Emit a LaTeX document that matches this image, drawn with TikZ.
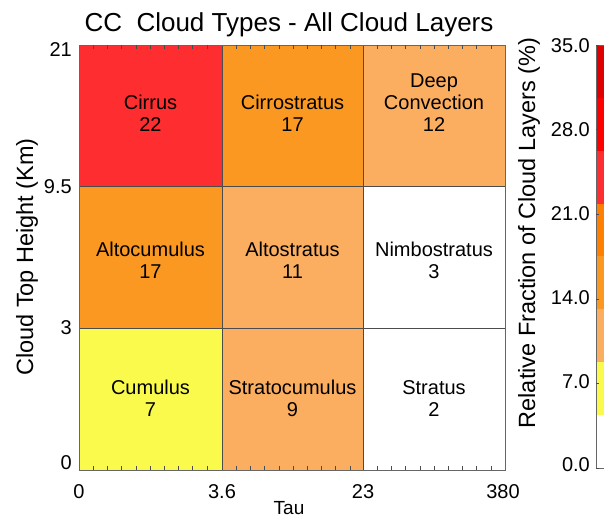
\documentclass[tikz,border=0pt]{standalone}
\usepackage{fontspec}
\setmainfont{Liberation Sans}
\usetikzlibrary{positioning}

\definecolor{darkred}{RGB}{222,0,0}
\definecolor{purered}{RGB}{255,0,0}
\definecolor{lightred}{RGB}{253,45,48}
\definecolor{darkorange}{RGB}{255,128,0}
\definecolor{midorange}{RGB}{250,152,34}
\definecolor{lightorange}{RGB}{252,174,96}
\definecolor{paleyellow}{RGB}{250,250,76}

\begin{document}
\begin{tikzpicture}[
    x=1pt, y=-1pt,
    cell/.style={draw=black!70, line width=0.7pt, inner sep=0pt, outer sep=0pt},
    celltext/.style={font=\fontsize{20}{22}\selectfont, align=center, inner sep=0pt},
    ticklabel/.style={font=\fontsize{20}{22}\selectfont, inner sep=0pt},
    axistitle/.style={font=\fontsize{23.5}{26}\selectfont, inner sep=0pt, rotate=90},
    minortick/.style={draw=black!70, line width=0.6pt},
    barlevel/.style={inner sep=0pt, outer sep=0pt, minimum width=24pt, minimum height=52.875pt},
]
\useasboundingbox (0,0) rectangle (604,518);

% === TITLE ===
\node[font=\fontsize{26}{29}\selectfont, inner sep=0pt] (title) at (289,25) {CC\ \ Cloud Types - All Cloud Layers};

% === CELLS (Tau columns x height rows) ===
\node[cell, fill=lightred, minimum width=143pt, minimum height=141pt] (cirrus) at (150.5,115.5) {};
\node[cell, fill=midorange, minimum width=141pt, minimum height=141pt] (cirrostratus) at (292.5,115.5) {};
\node[cell, fill=lightorange, minimum width=142pt, minimum height=141pt] (deepconv) at (434,115.5) {};

\node[cell, fill=midorange, minimum width=143pt, minimum height=142pt] (altocumulus) at (150.5,257) {};
\node[cell, fill=lightorange, minimum width=141pt, minimum height=142pt] (altostratus) at (292.5,257) {};
\node[cell, fill=white, minimum width=142pt, minimum height=142pt] (nimbostratus) at (434,257) {};

\node[cell, fill=paleyellow, minimum width=143pt, minimum height=142pt] (cumulus) at (150.5,399) {};
\node[cell, fill=lightorange, minimum width=141pt, minimum height=142pt] (stratocumulus) at (292.5,399) {};
\node[cell, fill=white, minimum width=142pt, minimum height=142pt] (stratus) at (434,399) {};

% Labels
\node[celltext, above=54pt of cirrus.south] {Cirrus\\22};
\node[celltext, above=54pt of cirrostratus.south] {Cirrostratus\\17};
\node[celltext, above=54pt of deepconv.south] {Deep\\Convection\\12};
\node[celltext, above=49pt of altocumulus.south] {Altocumulus\\17};
\node[celltext, above=49pt of altostratus.south] {Altostratus\\11};
\node[celltext, above=49pt of nimbostratus.south] {Nimbostratus\\3};
\node[celltext, above=53pt of cumulus.south] {Cumulus\\7};
\node[celltext, above=53pt of stratocumulus.south] {Stratocumulus\\9};
\node[celltext, above=53pt of stratus.south] {Stratus\\2};

% Outer box
\draw[black!60, line width=0.9pt] (cirrus.north west) rectangle (stratus.south east);

% Minor ticks along top and bottom
\foreach \c in {79,222,363}
  \foreach \k in {1,...,9} {
    \draw[minortick] (\c+\k*14.2,45) -- ++(0,4);
    \draw[minortick] (\c+\k*14.2,470) -- ++(0,-4);
  }

% === AXES ===
\node[ticklabel, anchor=east] (y21) at (72,50) {21};
\node[ticklabel, anchor=east] (y95) at (72,187) {9.5};
\node[ticklabel, anchor=east] (y3) at (72,328) {3};
\node[ticklabel, anchor=east] (y0) at (72,463) {0};

\node[ticklabel] (x0) at (79,492) {0};
\node[ticklabel] (x36) at (222,492) {3.6};
\node[ticklabel] (x23) at (363,492) {23};
\node[ticklabel] (x380) at (503,492) {380};

\node[font=\fontsize{19}{21}\selectfont, inner sep=0pt] (tau) at (289,508) {Tau};
\node[axistitle] (ytitle) at (27,257) {Cloud Top Height (Km)};

% === COLOR BAR ===
\begin{scope}
\clip (0,0) rectangle (604,518);
\foreach \col [count=\i from 0] in {white,paleyellow,lightorange,midorange,darkorange,lightred,purered,darkred}
  \node[barlevel, fill=\col] (lev\i) at (608,468-52.875*\i-26.4375) {};
\draw[black!60, line width=0.8pt] (596,468) rectangle (640,45);
\end{scope}

\foreach \v [count=\i from 0] in {0.0,7.0,14.0,21.0,28.0,35.0} {
  \node[ticklabel, anchor=east] (bar\i) at (590,465-83.8*\i) {\v};
  \draw[minortick] (596,468-84.6*\i) -- ++(3,0);
}
\node[axistitle] (bartitle) at (529,233) {Relative Fraction of Cloud Layers (\%)};

\end{tikzpicture}
\end{document}
